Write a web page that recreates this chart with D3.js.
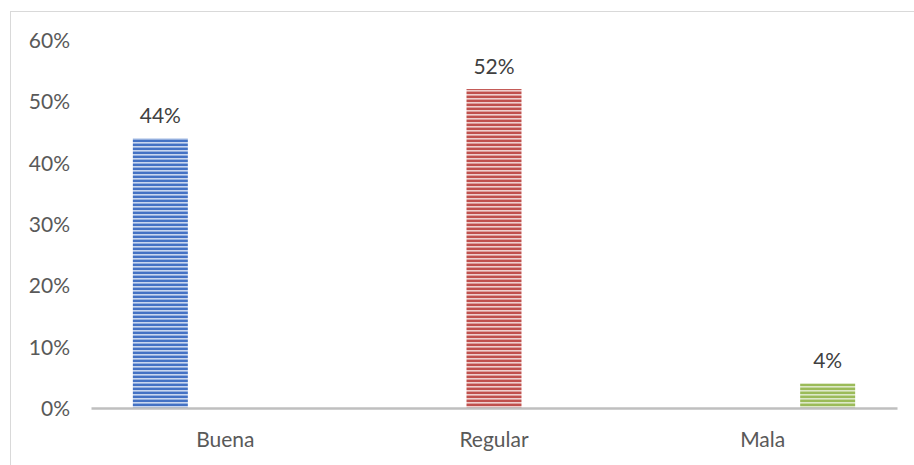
<!DOCTYPE html>
<html>
<head>
<meta charset="utf-8">
<script src="https://cdn.jsdelivr.net/npm/d3@7"></script>
<style>
  html, body { margin: 0; padding: 0; background: #fff; }
  svg { display: block; }
</style>
</head>
<body>
<svg id="chart" width="914" height="465"></svg>
<script>
// Percentages by rating: each series only has a value in its own category
const categories = ["Buena", "Regular", "Mala"];
const seriesNames = ["Buena", "Regular", "Mala"];
const buenaValues = [0.44, null, null];
const regularValues = [null, 0.52, null];
const malaValues = [null, null, 0.04];
const seriesColors = ["#4472c4", "#c0504d", "#9bbb59"];
const stripeColors = ["#c9d7ef", "#efcfce", "#dde9c8"];
const yTicks = [0, 0.1, 0.2, 0.3, 0.4, 0.5, 0.6];

const series = [buenaValues, regularValues, malaValues];

const svg = d3.select("#chart");
const font = "Lato, 'Open Sans', sans-serif";
const textColor = "#595959";

// Outer chart frame
svg.append("rect")
  .attr("x", 10.5).attr("y", 11.5)
  .attr("width", 1000).attr("height", 1000)
  .attr("fill", "none")
  .attr("stroke", "#d9d9d9")
  .attr("stroke-width", 1);

const plot = { left: 91, right: 897, top: 40, bottom: 408 };

const x0 = d3.scaleBand().domain(categories).range([plot.left, plot.right]).padding(0);
const x1 = d3.scaleBand().domain(seriesNames).range([0, x0.bandwidth()])
  .paddingInner(0.154).paddingOuter(0.644);
const y = d3.scaleLinear().domain([0, 0.6]).range([plot.bottom, plot.top]);

// Striped fill patterns, one per series
const defs = svg.append("defs");
seriesColors.forEach((c, i) => {
  const p = defs.append("pattern")
    .attr("id", "stripes" + i)
    .attr("patternUnits", "userSpaceOnUse")
    .attr("width", 8).attr("height", 4);
  p.append("rect").attr("width", 8).attr("height", 4).attr("fill", c);
  p.append("rect").attr("y", 2).attr("width", 8).attr("height", 1.6).attr("fill", stripeColors[i]);
});

// Bars
series.forEach((vals, si) => {
  const g = svg.append("g");
  vals.forEach((v, ci) => {
    if (v == null) return;
    const bx = x0(categories[ci]) + x1(seriesNames[si]);
    g.append("rect")
      .attr("x", bx)
      .attr("y", y(v))
      .attr("width", x1.bandwidth())
      .attr("height", y(0) - y(v))
      .attr("fill", "url(#stripes" + si + ")");
    g.append("text")
      .attr("x", bx + x1.bandwidth() / 2)
      .attr("y", y(v) - 15)
      .attr("text-anchor", "middle")
      .attr("font-family", font)
      .attr("font-size", 21)
      .attr("fill", "#404040")
      .text(d3.format(".0%")(v));
  });
});

// Y axis labels
const yAxis = d3.axisLeft(y).tickValues(yTicks).tickFormat(d3.format(".0%")).tickSize(0).tickPadding(0);
const yg = svg.append("g").attr("transform", `translate(70,0)`).call(yAxis);
yg.select(".domain").remove();
yg.selectAll("text")
  .attr("font-family", font).attr("font-size", 21).attr("fill", textColor)
  .attr("dy", "0.35em");

// X axis baseline and category labels
const xAxis = d3.axisBottom(x0).tickSize(0).tickPadding(0);
const xg = svg.append("g").attr("transform", `translate(0,${plot.bottom})`).call(xAxis);
xg.select(".domain")
  .attr("stroke", "#bfbfbf").attr("stroke-width", 2.5);
xg.selectAll("text")
  .attr("font-family", font).attr("font-size", 21).attr("fill", textColor)
  .attr("dy", "0").attr("y", 39);
</script>
</body>
</html>
